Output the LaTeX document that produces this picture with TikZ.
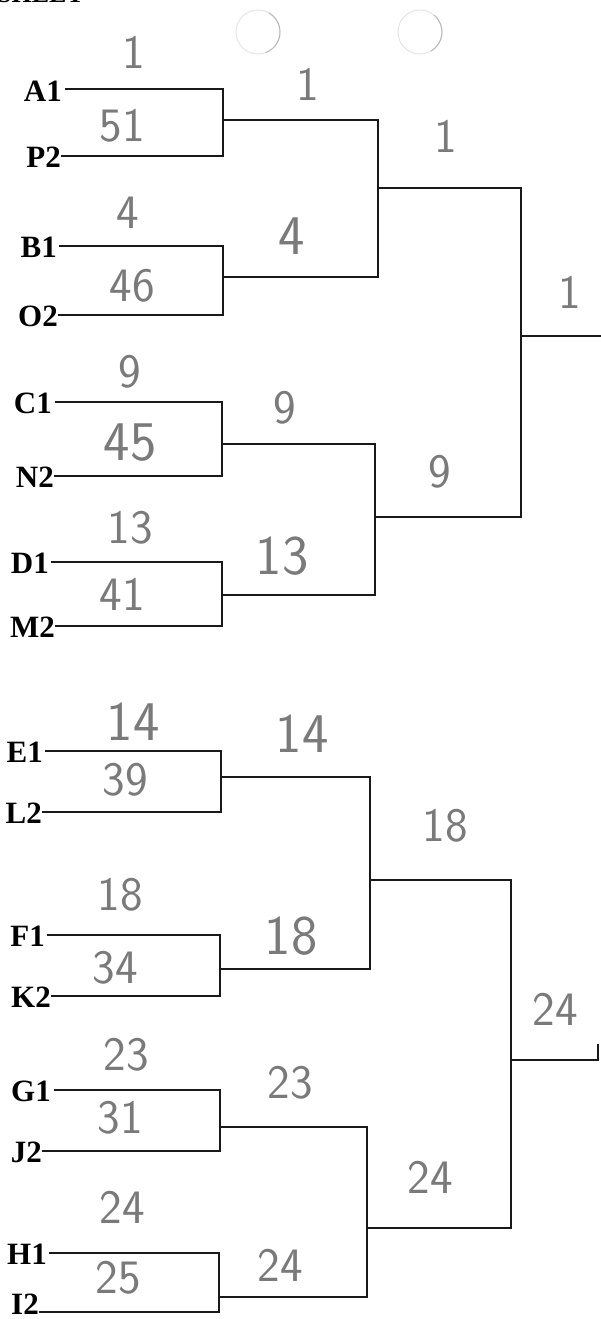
\documentclass[tikz,border=0pt]{standalone}
\usepackage{fontspec}
\setmainfont{Liberation Serif}
\begin{document}
\begin{tikzpicture}[x=1pt,y=-1pt,
  lab/.style={font=\fontsize{31}{31}\selectfont\bfseries, inner sep=1pt, anchor=east, text=black},
  hw/.style={font=\fontsize{48}{48}\selectfont\sffamily, text=black!52, inner sep=0pt},
  hwbig/.style={hw, font=\fontsize{56}{56}\selectfont\sffamily},
  brk/.style={line width=2pt, draw=black!90, line cap=rect},
  punch/.style={draw=black!10, line width=1pt}
]
\useasboundingbox (0,0) rectangle (600,1319);

% cut-off header and punch holes
\node[font=\fontsize{26}{26}\selectfont\bfseries, anchor=base west, inner sep=0pt] (hdr) at (-3,3) {SHEET};
\draw[punch] (258,32) circle (22);
\draw[punch, draw=black!28] (258,32) ++(-60:22) arc (-60:70:22);
\draw[punch] (420,32) circle (22);
\draw[punch, draw=black!28] (420,32) ++(-50:22) arc (-50:60:22);

% ---------- players (labels) ----------
\node[lab] (A1) at (63,91) {A1};
\node[lab] (P2) at (62,157) {P2};
\node[lab] (B1) at (58,247) {B1};
\node[lab] (O2) at (59,316) {O2};
\node[lab] (C1) at (53,403) {C1};
\node[lab] (N2) at (55,477) {N2};
\node[lab] (D1) at (50,563) {D1};
\node[lab] (M2) at (56,627) {M2};
\node[lab] (E1) at (44,752) {E1};
\node[lab] (L2) at (43,813) {L2};
\node[lab] (F1) at (46,936) {F1};
\node[lab] (K2) at (52,997) {K2};
\node[lab] (G1) at (52,1091) {G1};
\node[lab] (J2) at (43,1152) {J2};
\node[lab] (H1) at (48,1254) {H1};
\node[lab] (I2) at (40,1304) {I2};

% ---------- bracket coordinates ----------
% round 1 joins
\coordinate (a1) at (223,89);  \coordinate (p2) at (223,156);
\coordinate (b1) at (223,246); \coordinate (o2) at (223,315);
\coordinate (c1) at (222,402); \coordinate (n2) at (222,476);
\coordinate (d1) at (222,562); \coordinate (m2) at (222,626);
\coordinate (e1) at (221,751); \coordinate (l2) at (221,812);
\coordinate (f1) at (220,935); \coordinate (k2) at (220,996);
\coordinate (g1) at (220,1090);\coordinate (j2) at (220,1151);
\coordinate (h1) at (219,1253);\coordinate (i2) at (219,1312);
% round 1 outputs
\coordinate (w1) at (223,120);  \coordinate (w1e) at (378,120);
\coordinate (w2) at (223,277);  \coordinate (w2e) at (378,277);
\coordinate (w3) at (222,444);  \coordinate (w3e) at (375,444);
\coordinate (w4) at (222,595);  \coordinate (w4e) at (375,595);
\coordinate (w5) at (221,777);  \coordinate (w5e) at (370,777);
\coordinate (w6) at (220,969);  \coordinate (w6e) at (370,969);
\coordinate (w7) at (220,1127); \coordinate (w7e) at (367,1127);
\coordinate (w8) at (219,1297); \coordinate (w8e) at (367,1297);
% round 2 outputs
\coordinate (s1) at (378,188);  \coordinate (s1e) at (521,188);
\coordinate (s2) at (375,517);  \coordinate (s2e) at (521,517);
\coordinate (s3) at (370,880);  \coordinate (s3e) at (511,880);
\coordinate (s4) at (367,1228); \coordinate (s4e) at (511,1228);
% finals
\coordinate (f1s) at (521,336); \coordinate (fin1) at (600,336);
\coordinate (f2s) at (511,1060); \coordinate (fin2) at (598,1060);
\coordinate (fin2t) at (598,1045);

% ---------- player lines and round-1 brackets ----------
\draw[brk] (A1.east) ++(3,-2) -- (a1) -- (p2) -- (P2.east |- p2);
\draw[brk] (B1.east) ++(2,-1) -- (b1) -- (o2) -- (O2.east |- o2);
\draw[brk] (C1.east) ++(3,-1) -- (c1) -- (n2) -- (N2.east |- n2);
\draw[brk] (D1.east) ++(2,-1) -- (d1) -- (m2) -- (M2.east |- m2);
\draw[brk] (E1.east) ++(2,-1) -- (e1) -- (l2) -- (L2.east |- l2);
\draw[brk] (F1.east) ++(2,-1) -- (f1) -- (k2) -- (K2.east |- k2);
\draw[brk] (G1.east) ++(3,-1) -- (g1) -- (j2) -- (J2.east |- j2);
\draw[brk] (H1.east) ++(2,-1) -- (h1) -- (i2) -- (I2.east |- i2);

% ---------- round-1 outputs and round-2 brackets ----------
\draw[brk] (w1) -- (w1e) -- (w2e) -- (w2);
\draw[brk] (w3) -- (w3e) -- (w4e) -- (w4);
\draw[brk] (w5) -- (w5e) -- (w6e) -- (w6);
\draw[brk] (w7) -- (w7e) -- (w8e) -- (w8);

% ---------- round-2 outputs and round-3 brackets ----------
\draw[brk] (s1) -- (s1e) -- (s2e) -- (s2);
\draw[brk] (s3) -- (s3e) -- (s4e) -- (s4);

% ---------- final lines ----------
\draw[brk] (f1s) -- (fin1);
\draw[brk] (f2s) -- (fin2) -- (fin2t);

% ---------- handwritten seeds ----------
% top half
\node[hw] (h01) at (134,52)  {1};
\node[hw] (h02) at (122,126) {51};
\node[hw] (h03) at (308,84)  {1};
\node[hw] (h04) at (446,136) {1};
\node[hw] (h05) at (570,292) {1};
\node[hw] (h06) at (128,213) {4};
\node[hw] (h07) at (132,286) {46};
\node[hwbig] (h08) at (292,236) {4};
\node[hw] (h09) at (130,372) {9};
\node[hwbig] (h10) at (130,443) {45};
\node[hw] (h11) at (285,408) {9};
\node[hw] (h12) at (440,472) {9};
\node[hw] (h13) at (130,528) {13};
\node[hw] (h14) at (122,594) {41};
\node[hwbig] (h15) at (282,556) {13};
% bottom half
\node[hwbig] (h16) at (133,722) {14};
\node[hw] (h17) at (125,780) {39};
\node[hwbig] (h18) at (302,734) {14};
\node[hw] (h19) at (445,826) {18};
\node[hw] (h20) at (120,895) {18};
\node[hw] (h21) at (115,968) {34};
\node[hwbig] (h22) at (291,936) {18};
\node[hw] (h23) at (555,1009) {24};
\node[hw] (h24) at (126,1055) {23};
\node[hw] (h25) at (120,1118) {31};
\node[hw] (h26) at (290,1083) {23};
\node[hw] (h27) at (430,1177) {24};
\node[hw] (h28) at (122,1207) {24};
\node[hw] (h29) at (118,1278) {25};
\node[hw] (h30) at (280,1265) {24};
\end{tikzpicture}
\end{document}
